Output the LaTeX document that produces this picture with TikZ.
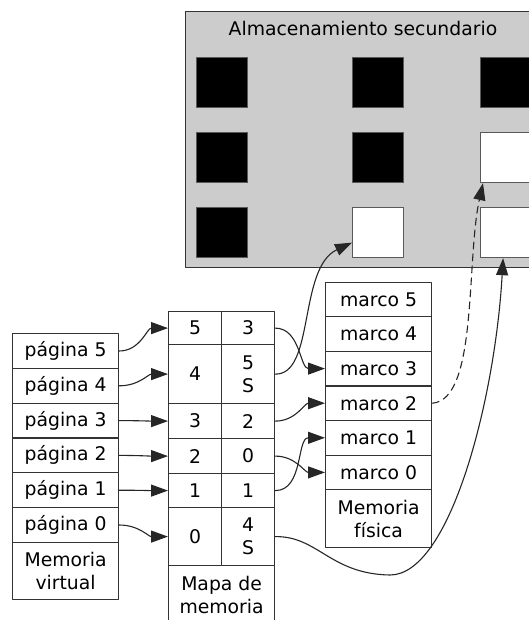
\documentclass[tikz,border=0pt]{standalone}
\usepackage{fontspec}
\setmainfont{DejaVu Sans}
\usetikzlibrary{arrows.meta}
\tikzset{
  every picture/.style={line join=round, line cap=round},
  txt/.style={font=\fontsize{18.8}{23}\selectfont},
  cell/.style={txt, draw=black!80, line width=1.2pt, anchor=north west, inner sep=0pt, align=center},
  blk/.style={draw=black!65, line width=1.2pt, anchor=north west, minimum width=51pt, minimum height=50pt, inner sep=0pt},
  arr/.style={-{Triangle[length=17pt,width=12pt]}, draw=black!85, line width=1.1pt},
}

\begin{document}
\begin{tikzpicture}[x=1pt,y=-1pt]
\useasboundingbox (0,0) rectangle (529,620);
\clip (0,0) rectangle (529,620);
% almacenamiento secundario
\node[cell, fill=black!20, minimum width=360pt, minimum height=256pt] (disco) at (185,11) {};
\node[txt] (titulo) at (363,28) {Almacenamiento secundario};
\foreach \n/\x/\y/\f in {11/196/57/black, 21/352/57/black, 31/480/57/black,
                         12/196/132/black, 22/352/132/black, 32/480/132/white,
                         13/196/207/black, 23/352/207/white, 33/480/207/white}
  \node[blk, fill=\f] (sq\n) at (\x,\y) {};
% memoria virtual
\foreach \i in {5,...,0}{
  \pgfmathsetmacro\y{333+(5-\i)*34.8}
  \node[cell, minimum width=106pt, minimum height=34.8pt] (vp\i) at (12,\y) {página \i};
}
\node[cell, minimum width=106pt, minimum height=57pt] (vpLbl) at (12,541.8) {Memoria\\virtual};
% mapa de memoria
\foreach \i/\y/\h/\r in {5/311/33/3, 4/344/59/{5\\S}, 3/403/35/2, 2/438/35/0, 1/473/34/1, 0/507/58/{4\\S}}{
  \node[cell, minimum width=53pt, minimum height=\h pt] (mapL\i) at (168,\y) {\i};
  \node[cell, minimum width=53pt, minimum height=\h pt] (mapR\i) at (221,\y) {\r};
}
\node[cell, minimum width=106pt, minimum height=58pt] (mapLbl) at (168,565) {Mapa de\\memoria};
% memoria fisica
\foreach \i in {5,...,0}{
  \pgfmathsetmacro\y{281.5+(5-\i)*34.6}
  \node[cell, minimum width=106pt, minimum height=34.6pt] (pf\i) at (325,\y) {marco \i};
}
\node[cell, minimum width=106pt, minimum height=58pt] (pfLbl) at (325,489.1) {Memoria\\física};
% flechas
\foreach \i in {5,...,0}
  \draw[arr] (vp\i.east) to[out=0,in=180] (mapL\i.west);
\foreach \a/\b in {5/3, 3/2, 2/0, 1/1}
  \draw[arr] (mapR\a.east) to[out=0,in=180] (pf\b.west);
\draw[arr] (mapR4.east) .. controls (315,375) and (298,268) .. ([yshift=-10pt]sq23.west);
\coordinate (dip) at (390,575);
\draw[arr] (mapR0.east) .. controls (318,536) and (330,574) .. (dip)
  .. controls (450,575) and (495,400) .. ([xshift=-3pt]sq33.south);
\draw[arr, dash pattern=on 7pt off 5pt] (pf2.east) .. controls (478,400) and (466,260) .. ([xshift=3pt]sq32.south west);
\end{tikzpicture}
\end{document}
